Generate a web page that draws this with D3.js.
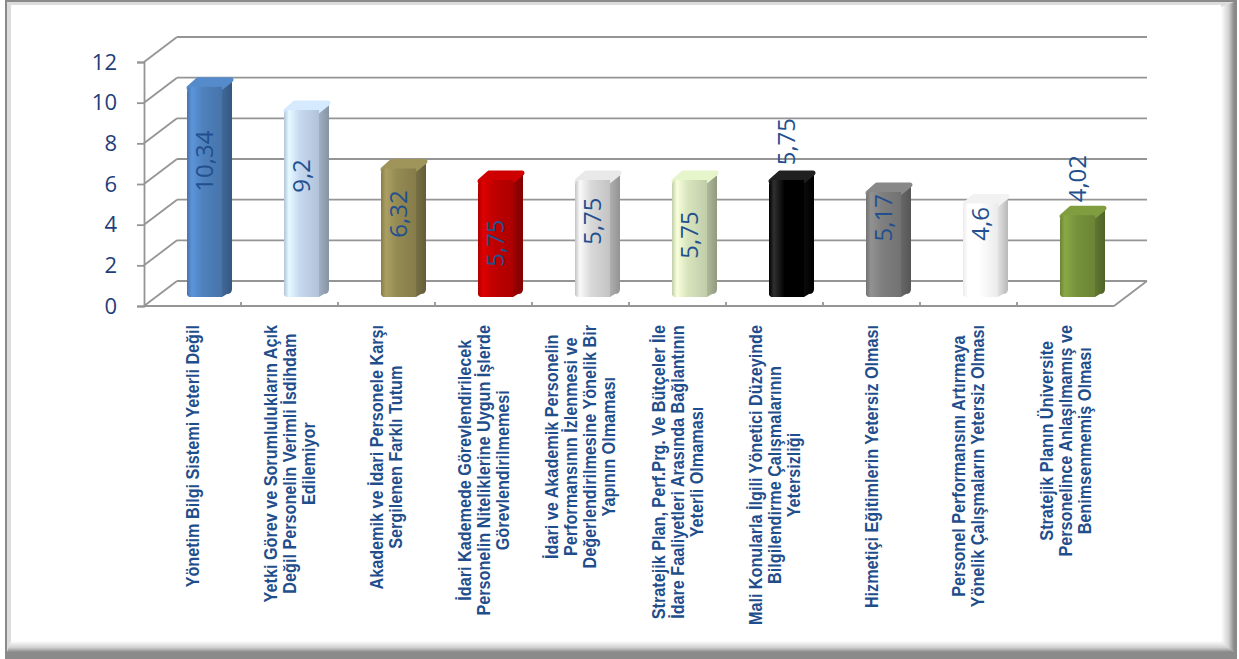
<!DOCTYPE html>
<html>
<head>
<meta charset="utf-8">
<script src="https://cdn.jsdelivr.net/npm/d3@7"></script>
<style>
  html, body { margin: 0; padding: 0; background: #fff; }
  svg { display: block; }
</style>
</head>
<body>
<svg id="chart" width="1239" height="659"></svg>
<script>
// Category names, one entry per line of the wrapped label
const categories = [
  ["Yönetim Bilgi Sistemi Yeterli Değil"],
  ["Yetki Görev ve Sorumlulukların Açık", "Değil Personelin Verimli İsdihdam", "Edilemiyor"],
  ["Akademik ve İdari Personele Karşı", "Sergilenen Farklı Tutum"],
  ["İdari Kademede Görevlendirilecek", "Personelin Niteliklerine Uygun İşlerde", "Görevlendirilmemesi"],
  ["İdari ve Akademik Personelin", "Performansının İzlenmesi ve", "Değerlendirilmesine Yönelik Bir", "Yapının Olmaması"],
  ["Stratejik Plan, Perf.Prg. Ve Bütçeler İle", "İdare Faaliyetleri Arasında Bağlantının", "Yeterli Olmaması"],
  ["Mali Konularla İlgili Yönetici Düzeyinde", "Bilgilendirme Çalışmalarının", "Yetersizliği"],
  ["Hizmetiçi Eğitimlerin Yetersiz Olması"],
  ["Personel Performansını Artırmaya", "Yönelik Çalışmaların Yetersiz Olması"],
  ["Stratejik Planın Üniversite", "Personelince Anlaşılmamış ve", "Benimsenmemiş Olması"]
];
const values = [10.34, 9.2, 6.32, 5.75, 5.75, 5.75, 5.75, 5.17, 4.6, 4.02];
const barColors = ["#4F81BD", "#C6D9F1", "#948A54", "#C00000", "#D9D9D9",
                   "#D7E4BD", "#000000", "#7F7F7F", "#FFFFFF", "#77933C"];
const yTicks = [0, 2, 4, 6, 8, 10, 12];
// Where each value label is centred along its bar, in axis units
const labelCenters = [6.68, 5.95, 4.08, 2.65, 3.73, 3.05, 7.64, 3.9, 3.6, 5.82];

const svg = d3.select("#chart");

// ---------- picture frame ----------
const defs = svg.append("defs");
function vGrad(id, horizontal, stops) {
  const g = defs.append("linearGradient").attr("id", id)
    .attr("x1", 0).attr("y1", 0).attr("x2", horizontal ? 1 : 0).attr("y2", horizontal ? 0 : 1);
  stops.forEach(([o, c]) => g.append("stop").attr("offset", o).attr("stop-color", c));
}
vGrad("bevelR", true, [["0%", "#ffffff"], ["60%", "#d0d0d0"], ["100%", "#8a8a8a"]]);
vGrad("bevelB", false, [["0%", "#ffffff"], ["60%", "#d0d0d0"], ["100%", "#8a8a8a"]]);

const frame = svg.append("g");
frame.append("rect").attr("x", 5).attr("y", 0).attr("width", 1232).attr("height", 659).attr("fill", "#8a8a8a");
frame.append("rect").attr("x", 7).attr("y", 2).attr("width", 1227).attr("height", 650).attr("fill", "#dcdcdc");
frame.append("polygon").attr("points", "1221,7 1234,2 1234,652 1221,641").attr("fill", "url(#bevelR)");
frame.append("polygon").attr("points", "11,641 1221,641 1234,652 7,652").attr("fill", "url(#bevelB)");
frame.append("rect").attr("x", 11).attr("y", 5).attr("width", 1210).attr("height", 636).attr("fill", "#ffffff");

// ---------- scales ----------
const x = d3.scaleBand().domain(d3.range(categories.length)).range([144, 1114]).paddingInner(0).paddingOuter(0);
const y = d3.scaleLinear().domain([0, 12]).range([306, 62]);
const DX = 33, DY = -25;          // depth of the 3-D box
const BX = 12, BY = -9;           // bar front plane offset inside the box
const SX = 10, SY = -8;           // bar thickness (side / top)
const barW = 35;

// ---------- walls and grid ----------
const grid = svg.append("g").attr("stroke", "#959595").attr("stroke-width", 1.8).attr("fill", "none");
yTicks.forEach(t => {
  const yy = y(t);
  grid.append("line").attr("x1", 144).attr("y1", yy).attr("x2", 144 + DX).attr("y2", yy + DY);
  grid.append("line").attr("x1", 144 + DX).attr("y1", yy + DY).attr("x2", 1114 + DX).attr("y2", yy + DY);
});
grid.append("line").attr("x1", 144).attr("y1", y(0)).attr("x2", 1114).attr("y2", y(0));
grid.append("line").attr("x1", 1114).attr("y1", y(0)).attr("x2", 1114 + DX).attr("y2", y(0) + DY);
d3.range(1, categories.length).forEach(i => {
  const xx = x(i);
  grid.append("line").attr("x1", xx).attr("y1", y(0) - 4).attr("x2", xx).attr("y2", y(0) + 1);
});

// y axis
const yAxis = d3.axisLeft(y).tickValues(yTicks).tickSize(7).tickPadding(20).tickFormat(d3.format("d"));
const ax = svg.append("g").attr("transform", "translate(144,0)").call(yAxis);
ax.select(".domain").attr("stroke", "#959595").attr("stroke-width", 1.8);
ax.selectAll(".tick line").attr("stroke", "#959595").attr("stroke-width", 1.8);
ax.selectAll(".tick text").attr("fill", "#1F3D7A").style("font-family", "'Open Sans', Lato, sans-serif").style("font-size", "22px");

// ---------- bars ----------
const bars = svg.append("g");
values.forEach((v, i) => {
  const base = d3.color(barColors[i]);
  const isBlack = base.r + base.g + base.b < 30;
  const isWhite = base.r + base.g + base.b > 750;
  const hl = isBlack ? d3.rgb(48, 48, 48) : (isWhite ? d3.rgb(255, 255, 255) : base.brighter(0.4));
  const dk = isBlack ? d3.rgb(0, 0, 0) : (isWhite ? d3.rgb(235, 235, 235) : base.darker(0.3));
  vGrad("front" + i, true, [["0%", dk], ["14%", hl], ["45%", base], ["100%", dk]]);
  const sideA = isBlack ? "#0a0a0a" : (isWhite ? "#e2e2e2" : base.darker(0.6));
  const sideB = isBlack ? "#000000" : (isWhite ? "#b8b8b8" : base.darker(1.1));
  vGrad("side" + i, true, [["0%", sideA], ["100%", sideB]]);
  const top = isBlack ? "#202020" : (isWhite ? "#f2f2f2" : base.brighter(0.2));

  const x0 = x(i) + x.bandwidth() / 2 + BX - barW / 2;
  const x1 = x0 + barW;
  const yb = y(0) + BY;
  const yt = y(v) + BY;

  const bg = bars.append("g").attr("stroke-linejoin", "round");
  // side face
  bg.append("path")
    .attr("d", `M${x1},${yt} L${x1 + SX},${yt + SY} L${x1 + SX},${yb + SY} Q${x1 + SX},${yb + SY + 5} ${x1 + SX - 5},${yb + SY + 5} L${x1},${yb} Z`)
    .attr("fill", `url(#side${i})`);
  // top face, rounded cap
  bg.append("path")
    .attr("d", `M${x0 + 2},${yt + 1} L${x0 + SX + 1},${yt + SY + 1} L${x1 + SX - 1},${yt + SY + 1} L${x1 - 1},${yt + 1} Z`)
    .attr("fill", top).attr("stroke", top).attr("stroke-width", 5);
  // front face
  bg.append("path")
    .attr("d", `M${x0},${yb - 2} L${x0},${yt + 5} Q${x0},${yt} ${x0 + 5},${yt} L${x1},${yt} L${x1},${yb} L${x0 + 2},${yb} Z`)
    .attr("fill", `url(#front${i})`);
});

// ---------- value labels ----------
const fmt = v => String(v).replace(".", ",");
const vl = svg.append("g");
values.forEach((v, i) => {
  const cx = x(i) + x.bandwidth() / 2 + BX;
  const cy = y(labelCenters[i]) + BY;
  vl.append("text")
    .attr("transform", `translate(${cx},${cy}) rotate(-90)`)
    .attr("text-anchor", "middle").attr("dy", "0.36em")
    .attr("fill", "#22508F")
    .style("font-family", "'Open Sans', Lato, sans-serif").style("font-size", "24px")
    .text(fmt(v));
});

// ---------- category labels ----------
const lineH = 19, topY = 325, squeeze = 0.9;
const cl = svg.append("g")
  .style("font-family", "'Liberation Sans', Arial, sans-serif")
  .style("font-weight", "bold").style("font-size", "18px").attr("fill", "#1F4E8C");
categories.forEach((lines, i) => {
  const cx = x(i) + x.bandwidth() / 2;
  const g = cl.append("g").attr("transform", `translate(${cx},${topY}) rotate(-90) scale(${squeeze},1)`);
  const texts = lines.map((ln, j) => g.append("text")
    .attr("text-anchor", "middle")
    .attr("y", (j - (lines.length - 1) / 2) * lineH)
    .attr("dy", "0.36em").text(ln));
  const L = d3.max(texts, t => t.node().getComputedTextLength());
  texts.forEach(t => t.attr("x", -L / 2));
});
</script>
</body>
</html>
